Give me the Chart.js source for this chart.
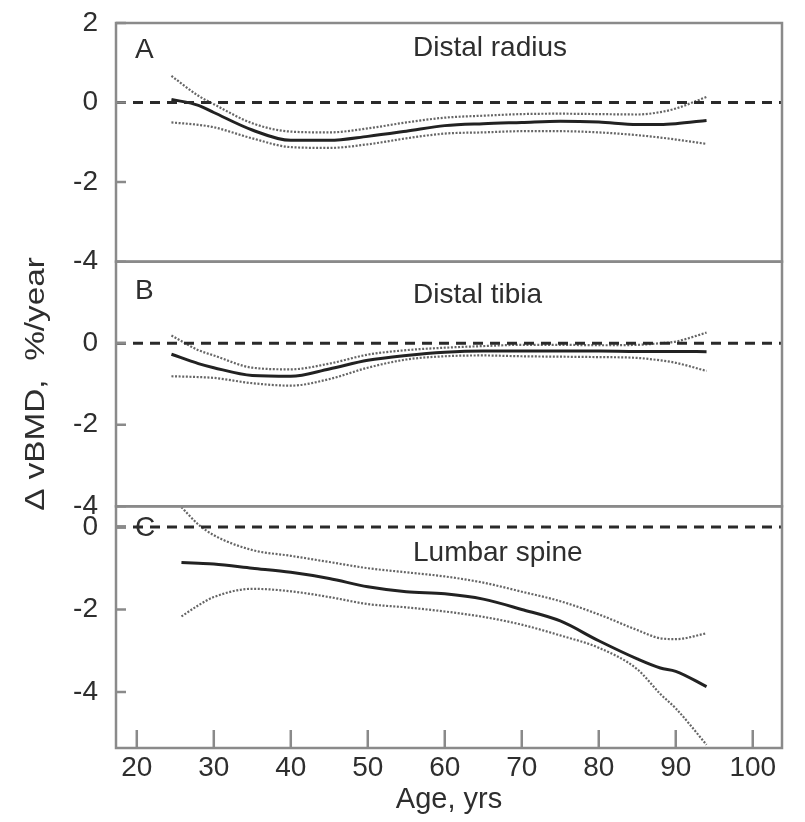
<!DOCTYPE html>
<html>
<head>
<meta charset="utf-8">
<script src="https://cdn.jsdelivr.net/npm/chart.js@4.4.1/dist/chart.umd.min.js"></script>
<style>
  html, body { margin: 0; padding: 0; background: #fff; }
</style>
</head>
<body>
<canvas id="chart" width="805" height="822"></canvas>
<script>
const FONT = "'Liberation Sans', Arial, sans-serif";
const TEXT = "#2e2e2e";
const FRAME = "#8a8a8a";

const X_MIN = 17.3;
const X_MAX = 103.8;
const ageTicks = [20, 30, 40, 50, 60, 70, 80, 90, 100];
const yTitle = "\u0394 vBMD,  %/year";

// A: distal radius
const radiusAges = [24.5, 28, 30, 35, 40, 45, 50, 55, 60, 65, 70, 75, 80, 85, 88, 90, 94];
const radiusMean = [0.08, -0.07, -0.25, -0.69, -0.95, -0.95, -0.85, -0.72, -0.58, -0.53, -0.5, -0.47, -0.49, -0.55, -0.55, -0.53, -0.45];
const radiusUpper = [0.67, 0.17, -0.04, -0.52, -0.73, -0.75, -0.65, -0.5, -0.38, -0.33, -0.29, -0.28, -0.29, -0.3, -0.24, -0.15, 0.14];
const radiusLower = [-0.5, -0.56, -0.62, -0.9, -1.12, -1.14, -1.05, -0.9, -0.78, -0.75, -0.72, -0.72, -0.75, -0.82, -0.88, -0.93, -1.04];

// B: distal tibia
const tibiaAges = [24.5, 28, 30, 35, 40, 45, 50, 55, 60, 65, 70, 75, 80, 85, 88, 90, 94];
const tibiaMean = [-0.27, -0.5, -0.6, -0.79, -0.81, -0.63, -0.42, -0.3, -0.22, -0.19, -0.19, -0.19, -0.19, -0.2, -0.2, -0.2, -0.21];
const tibiaUpper = [0.19, -0.17, -0.3, -0.6, -0.64, -0.5, -0.28, -0.17, -0.11, -0.07, -0.04, -0.04, -0.05, -0.04, 0.0, 0.04, 0.26];
const tibiaLower = [-0.81, -0.83, -0.85, -0.98, -1.04, -0.88, -0.6, -0.4, -0.32, -0.3, -0.32, -0.33, -0.34, -0.36, -0.42, -0.48, -0.68];

// C: lumbar spine
const spineAges = [25.8, 28, 30, 35, 40, 45, 50, 55, 60, 65, 70, 75, 80, 85, 88, 90, 94];
const spineMean = [-0.86, -0.88, -0.9, -1.0, -1.1, -1.25, -1.45, -1.57, -1.62, -1.75, -2.0, -2.28, -2.76, -3.2, -3.42, -3.5, -3.87];
const spineUpper = [0.48, 0.06, -0.2, -0.56, -0.7, -0.85, -1.0, -1.1, -1.2, -1.35, -1.57, -1.8, -2.12, -2.5, -2.7, -2.72, -2.58];
const spineLower = [-2.17, -1.9, -1.7, -1.5, -1.56, -1.7, -1.87, -1.95, -2.05, -2.18, -2.37, -2.63, -2.93, -3.45, -4.05, -4.4, -5.28];

const panels = [
  { id: "yA", letter: "A", title: "Distal radius", min: -4, max: 2, ticks: [2, 0, -2, -4], height: 239,
    ages: radiusAges, mean: radiusMean, upper: radiusUpper, lower: radiusLower, letterDy: 27, titleDy: 25 },
  { id: "yB", letter: "B", title: "Distal tibia", min: -4, max: 2, ticks: [0, -2, -4], height: 245,
    ages: tibiaAges, mean: tibiaMean, upper: tibiaUpper, lower: tibiaLower, letterDy: 30, titleDy: 34 },
  { id: "yC", letter: "C", title: "Lumbar spine", min: -5.36, max: 0.5, ticks: [0, -2, -4], height: 242,
    ages: spineAges, mean: spineMean, upper: spineUpper, lower: spineLower, letterDy: 22, titleDy: 47 },
];

const toPoints = (xs, ys) => xs.map((x, i) => ({ x: x, y: ys[i] }));

const datasets = [];
const scales = {
  x: {
    type: "linear",
    position: "bottom",
    min: X_MIN,
    max: X_MAX,
    afterBuildTicks: (scale) => {
      scale.ticks = ageTicks.map((v) => ({ value: v }));
    },
    afterFit: (scale) => {
      scale.height = 74;
      scale.paddingLeft = 0;
      scale.paddingRight = 0;
    },
    grid: { display: false, drawTicks: false },
    border: { display: false },
    ticks: { autoSkip: false, maxRotation: 0, padding: 3, color: TEXT, font: { family: FONT, size: 28 } },
    title: { display: true, text: "Age, yrs", color: TEXT, font: { family: FONT, size: 29 }, padding: { top: 0, bottom: 5 } },
  },
};

panels.forEach((p, i) => {
  datasets.push({
    yAxisID: p.id,
    data: [{ x: X_MIN, y: 0 }, { x: X_MAX, y: 0 }],
    borderColor: "#2a2a2a",
    borderWidth: 3,
    borderDash: [10, 7],
  });
  datasets.push({
    yAxisID: p.id,
    data: toPoints(p.ages, p.upper),
    borderColor: "#666",
    borderWidth: 2.2,
    borderDash: [2, 1.6],
    cubicInterpolationMode: "monotone",
  });
  datasets.push({
    yAxisID: p.id,
    data: toPoints(p.ages, p.lower),
    borderColor: "#666",
    borderWidth: 2.2,
    borderDash: [2, 1.6],
    cubicInterpolationMode: "monotone",
  });
  datasets.push({
    yAxisID: p.id,
    data: toPoints(p.ages, p.mean),
    borderColor: "#222",
    borderWidth: 3,
    cubicInterpolationMode: "monotone",
  });

  scales[p.id] = {
    type: "linear",
    position: "left",
    stack: "panels",
    stackWeight: p.height,
    weight: panels.length - i,
    min: p.min,
    max: p.max,
    afterBuildTicks: (scale) => {
      scale.ticks = p.ticks.map((v) => ({ value: v }));
    },
    afterFit: (scale) => {
      scale.width = 116;
      scale.paddingTop = 0;
      scale.paddingBottom = 0;
    },
    grid: { display: false, drawTicks: false },
    border: { display: false },
    ticks: { autoSkip: false, padding: 18, color: TEXT, font: { family: FONT, size: 28 } },
  };
});

// panel boxes, inward tick marks, panel captions and the shared y title
const panelFrames = {
  id: "panelFrames",
  afterDraw: (chart) => {
    const ctx = chart.ctx;
    const area = chart.chartArea;
    const xScale = chart.scales.x;
    ctx.save();
    ctx.strokeStyle = FRAME;
    ctx.lineWidth = 2.5;

    panels.forEach((p) => {
      const y = chart.scales[p.id];
      ctx.strokeRect(area.left, y.top, area.right - area.left, y.bottom - y.top);

      ctx.beginPath();
      p.ticks.forEach((v) => {
        const py = y.getPixelForValue(v);
        ctx.moveTo(area.left, py);
        ctx.lineTo(area.left + 10, py);
      });
      ctx.stroke();

      ctx.fillStyle = TEXT;
      ctx.font = "28px " + FONT;
      ctx.textBaseline = "middle";
      ctx.textAlign = "left";
      ctx.fillText(p.letter, area.left + 19, y.top + p.letterDy);
      ctx.fillText(p.title, area.left + 297, y.top + p.titleDy);
    });

    ctx.beginPath();
    ageTicks.forEach((v) => {
      const px = xScale.getPixelForValue(v);
      ctx.moveTo(px, area.bottom);
      ctx.lineTo(px, area.bottom - 18);
    });
    ctx.stroke();

    // y title runs down the middle panel, set a little wide
    const mid = chart.scales.yB;
    ctx.translate(36, (mid.top + mid.bottom) / 2);
    ctx.rotate(-Math.PI / 2);
    ctx.scale(1.19, 1);
    ctx.fillStyle = TEXT;
    ctx.font = "28px " + FONT;
    ctx.textAlign = "center";
    ctx.textBaseline = "middle";
    ctx.fillText(yTitle, 0, 0);
    ctx.restore();
  },
};

new Chart(document.getElementById("chart"), {
  type: "line",
  data: { datasets: datasets },
  options: {
    responsive: false,
    animation: false,
    devicePixelRatio: 1,
    layout: { padding: { top: 23, right: 23, left: 0, bottom: 0 } },
    elements: { point: { radius: 0 } },
    plugins: { legend: { display: false }, tooltip: { enabled: false } },
    scales: scales,
  },
  plugins: [panelFrames],
});
</script>
</body>
</html>
